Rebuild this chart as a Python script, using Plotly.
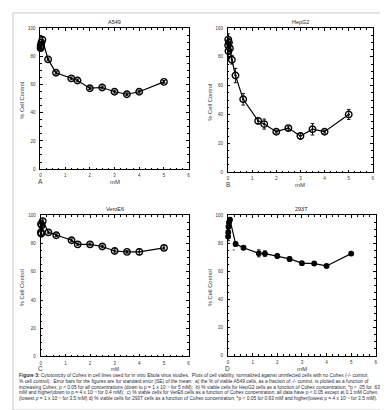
import plotly.graph_objects as go

W, H = 388, 410

# ---------------- data ----------------
a549_x = [0.005, 0.01, 0.02, 0.04, 0.08, 0.31, 0.63, 1.25, 1.5, 2, 2.5, 3, 3.5, 4, 5]
a549_y = [86, 88, 87, 90, 92, 78, 68.5, 64.5, 63, 57.5, 58, 55, 53.2, 55, 62]
a549_e = [2, 2, 2, 2, 1.5, 1, 1, 1, 1, 1, 1, 1, 1, 1, 1]

hep_x = [0.005, 0.01, 0.02, 0.04, 0.08, 0.16, 0.31, 0.63, 1.25, 1.5, 2, 2.5, 3, 3.5, 4, 5]
hep_y = [88, 92, 84, 90, 86, 78, 67, 50.5, 35.5, 33.3, 28, 30.5, 25, 29.7, 28, 40]
hep_e = [4, 4, 5, 3, 4, 3, 5, 4, 2, 3.5, 1, 1.5, 2, 4, 1, 3.5]

vero_x = [0.005, 0.01, 0.02, 0.04, 0.08, 0.31, 0.63, 1.25, 1.5, 2, 2.5, 3, 3.5, 4, 5]
vero_y = [88, 94, 87, 93, 96, 88, 86, 82.4, 79.5, 79.5, 78, 74.8, 74.2, 74.2, 77]
vero_e = [2, 2, 2, 2, 1.5, 1, 1, 1, 1, 1, 1, 1.5, 1, 2, 1.5]

t293_x = [0.005, 0.01, 0.02, 0.04, 0.08, 0.31, 0.63, 1.25, 1.5, 2, 2.5, 3, 3.5, 4, 5]
t293_y = [85, 88, 92, 95, 97, 79.6, 77, 73, 72.8, 71.1, 69, 66, 65.7, 64, 72.8]
t293_e = [3, 3, 3, 2, 1.5, 1.5, 1, 2.5, 2, 1.5, 1.5, 1, 1, 1, 0.8]

star_x = [0.23]
star_y = [74]

panel_titles = ["A549", "HepG2", "VeroE6", "293T"]
panel_letters = ["A", "B", "C", "D"]
x_ticks = [0, 1, 2, 3, 4, 5, 6]
y_ticks = [0, 20, 40, 60, 80, 100]

caption_lines = [
    "<b>Figure 3:</b> Cytotoxicity of Cohex in cell lines used for in vitro Ebola virus studies.  Plots of cell viability, normalized against uninfected cells with no Cohex (-/- control;",
    "% cell control).  Error bars for the figures are for standard error (SE) of the mean:  a) the % of viable A549 cells, as a fraction of -/- control, is plotted as a function of",
    "increasing Cohex; p < 0.05 for all concentrations (down to p = 1 x 10⁻⁴ for 5 mM);  b) % viable cells for HepG2 cells as a function of Cohex concentration; *p < .05 for .63",
    "mM and higher(down to p = 4 x 10⁻⁴ for 0.4 mM);  c) % viable cells for VerE6 cells as a function of Cohex concentration; all data have p < 0.05 except at 0.1 mM Cohex.",
    "(lowest p = 1 x 10⁻⁴ for 3.5 mM) d) % viable cells for 293T cells as a function of Cohex concentration; *p < 0.05 for 0.63 mM and higher(lowest p = 4 x 10⁻⁴ for 3.5 mM).",
]

# ---------------- layout helpers ----------------
def px(x):
    return x / W

def py(y):
    return 1 - y / H

# pixel boxes: left, right, top, bottom
boxes = [
    (31.7, 181.0, 18.7, 161.0),
    (220.7, 366.7, 18.3, 164.0),
    (32.0, 181.0, 208.0, 350.7),
    (220.7, 369.7, 208.0, 350.0),
]

TXT = "#2e3650"
FONT = "Liberation Sans, Arial, sans-serif"

fig = go.Figure()

series = [
    (a549_x, a549_y, a549_e, "circle-open-dot", 6.5),
    (hep_x, hep_y, hep_e, "circle-open-dot", 6.5),
    (vero_x, vero_y, vero_e, "circle-open-dot", 6.5),
    (t293_x, t293_y, t293_e, "circle", 4.5),
]

for i, (xs, ys, es, sym, sz) in enumerate(series):
    n = "" if i == 0 else str(i + 1)
    fig.add_trace(go.Scatter(
        x=xs, y=ys, mode="lines+markers",
        xaxis="x" + n, yaxis="y" + n,
        line=dict(color="black", width=1.2),
        marker=dict(symbol=sym, size=sz, color="black",
                    line=dict(color="black", width=1.4)),
        error_y=dict(type="data", array=es, color="black", thickness=0.9, width=1.8),
        cliponaxis=False, showlegend=False,
    ))

fig.add_trace(go.Scatter(
    x=star_x, y=star_y, mode="text", text=["*"], xaxis="x4", yaxis="y4",
    textfont=dict(size=6, color="#333", family=FONT), showlegend=False,
    cliponaxis=False,
))

layout = dict(
    width=W, height=H, autosize=False,
    margin=dict(l=0, r=0, t=0, b=0),
    paper_bgcolor="white", plot_bgcolor="white",
    font=dict(family=FONT, color=TXT),
)

annotations = []
for i, (l, r, t, b) in enumerate(boxes):
    n = "" if i == 0 else str(i + 1)
    common = dict(
        showline=True, linecolor="black", linewidth=1, mirror="ticks",
        ticks="inside", ticklen=2.5, tickwidth=0.8, tickcolor="black",
        showgrid=False, zeroline=False,
        tickfont=dict(size=4.5, color="#333"),
    )
    layout["xaxis" + n] = dict(
        domain=[px(l), px(r)], anchor="y" + n, range=[0, 6],
        tickvals=x_ticks, ticktext=[str(v) for v in x_ticks],
        minor=dict(dtick=0.25, ticks="inside", ticklen=1.5, tickcolor="black", tickwidth=0.7),
        ticklabelstandoff=2,
        **common,
    )
    layout["yaxis" + n] = dict(
        domain=[py(b), py(t)], anchor="x" + n, range=[0, 100],
        tickvals=y_ticks, ticktext=[str(v) for v in y_ticks],
        minor=dict(dtick=5, ticks="inside", ticklen=1.5, tickcolor="black", tickwidth=0.7),
        ticklabelstandoff=3,
        **common,
    )
    cx = (l + r) / 2
    annotations.append(dict(
        text=panel_titles[i], x=px(cx), y=py(t - 6.5), xref="paper", yref="paper",
        showarrow=False, font=dict(size=5.5, color="#222"),
        xanchor="center", yanchor="middle",
    ))
    annotations.append(dict(
        text=panel_letters[i], x=px(l), y=py(b + 12.5), xref="paper", yref="paper",
        showarrow=False, font=dict(size=6.5, color=TXT),
        xanchor="center", yanchor="middle",
    ))
    annotations.append(dict(
        text="mM", x=px(l + 0.5 * (r - l)), y=py(b + 13), xref="paper", yref="paper",
        showarrow=False, font=dict(size=6 if i != 2 else 4.8, color=TXT),
        xanchor="center", yanchor="middle",
    ))
    annotations.append(dict(
        text="% Cell Control", x=px(l - 18.5), y=py((t + b) / 2 + 2), xref="paper", yref="paper",
        showarrow=False, font=dict(size=5.8, color=TXT), textangle=-90,
        xanchor="center", yanchor="middle",
    ))

cap_top = 370
for k, line in enumerate(caption_lines):
    annotations.append(dict(
        text=line, x=px(8), y=py(cap_top + k * 5.9), xref="paper", yref="paper",
        showarrow=False, font=dict(size=4.85, color="#2a2a3a"),
        xanchor="left", yanchor="middle", align="left",
    ))

layout["annotations"] = annotations
layout["shapes"] = [
    dict(type="rect", xref="paper", yref="paper",
         x0=px(4), x1=px(383.5), y0=py(405), y1=py(3),
         line=dict(color="#c8c8c8", width=1), fillcolor="rgba(0,0,0,0)"),
]

fig.update_layout(**layout)
fig.write_html("out.html")
